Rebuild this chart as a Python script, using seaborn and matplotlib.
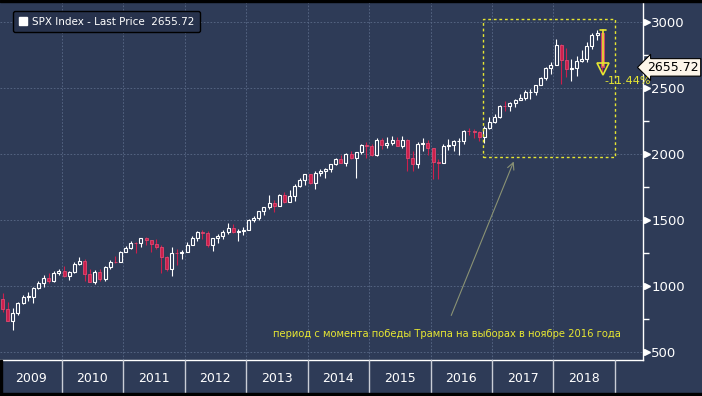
import numpy as np
import pandas as pd
import matplotlib
matplotlib.use("Agg")
import matplotlib.pyplot as plt
import seaborn as sns
from matplotlib.patches import Patch, Rectangle

# SPX monthly OHLC, Jan 2009 - Oct 2018 (read approximately)
months = pd.date_range("2009-01-01", "2018-10-01", freq="MS")
opens = [
    903, 826, 735, 798, 873, 919, 919, 987, 1021, 1057, 1036, 1096,
    1115, 1074, 1104, 1169, 1187, 1089, 1031, 1102, 1049, 1141, 1183, 1181,
    1258, 1286, 1327, 1326, 1364, 1345, 1321, 1292, 1219, 1131, 1253, 1247,
    1258, 1312, 1366, 1408, 1398, 1310, 1362, 1379, 1407, 1441, 1412, 1416,
    1426, 1498, 1515, 1569, 1598, 1631, 1606, 1686, 1633, 1682, 1757, 1806,
    1848, 1783, 1859, 1872, 1884, 1924, 1960, 1931, 2003, 1972, 2018, 2068,
    2059, 1995, 2105, 2068, 2086, 2107, 2063, 2104, 1972, 1920, 2079, 2080,
    2044, 1940, 1932, 2060, 2065, 2097, 2099, 2174, 2171, 2168, 2126, 2199,
    2239, 2279, 2364, 2363, 2384, 2412, 2423, 2470, 2472, 2519, 2575, 2648,
    2674, 2824, 2714, 2641, 2648, 2705, 2718, 2816, 2902, 2914,
]
highs = [
    944, 876, 832, 877, 930, 957, 993, 1039, 1080, 1101, 1113, 1130,
    1150, 1112, 1180, 1220, 1205, 1131, 1120, 1129, 1148, 1196, 1227, 1263,
    1303, 1344, 1333, 1364, 1370, 1346, 1356, 1307, 1230, 1293, 1277, 1269,
    1333, 1378, 1420, 1422, 1415, 1363, 1392, 1427, 1475, 1470, 1434, 1448,
    1510, 1530, 1570, 1598, 1687, 1654, 1698, 1710, 1730, 1775, 1814, 1849,
    1851, 1867, 1884, 1897, 1924, 1968, 1992, 2005, 2019, 2018, 2075, 2093,
    2072, 2120, 2117, 2126, 2135, 2129, 2133, 2113, 2021, 2094, 2117, 2104,
    2044, 1963, 2073, 2111, 2103, 2121, 2178, 2194, 2188, 2170, 2214, 2278,
    2301, 2372, 2401, 2392, 2419, 2454, 2484, 2491, 2520, 2582, 2657, 2695,
    2873, 2836, 2801, 2718, 2742, 2791, 2848, 2917, 2941, 2940,
]
lows = [
    805, 735, 667, 783, 866, 888, 869, 979, 993, 1020, 1029, 1086,
    1071, 1045, 1101, 1157, 1040, 1028, 1011, 1040, 1040, 1132, 1174, 1181,
    1257, 1282, 1249, 1295, 1311, 1258, 1282, 1101, 1114, 1075, 1158, 1202,
    1258, 1312, 1340, 1358, 1292, 1267, 1325, 1354, 1397, 1403, 1343, 1385,
    1426, 1485, 1501, 1536, 1581, 1560, 1604, 1627, 1633, 1646, 1747, 1768,
    1770, 1738, 1834, 1814, 1862, 1915, 1930, 1905, 1964, 1821, 2001, 1973,
    1988, 1981, 2040, 2048, 2068, 2057, 2045, 1867, 1872, 1893, 2019, 1993,
    1812, 1810, 1932, 2033, 2025, 1992, 2075, 2147, 2119, 2097, 2084, 2188,
    2234, 2271, 2322, 2329, 2353, 2406, 2407, 2417, 2446, 2519, 2557, 2605,
    2674, 2533, 2585, 2553, 2594, 2698, 2699, 2796, 2864, 2604,
]
closes = [
    826, 735, 798, 873, 919, 919, 987, 1021, 1057, 1036, 1096, 1115,
    1074, 1104, 1169, 1187, 1089, 1031, 1102, 1049, 1141, 1183, 1181, 1258,
    1286, 1327, 1326, 1364, 1345, 1321, 1292, 1219, 1131, 1253, 1247, 1258,
    1312, 1366, 1408, 1398, 1310, 1362, 1379, 1407, 1441, 1412, 1416, 1426,
    1498, 1515, 1569, 1598, 1631, 1606, 1686, 1633, 1682, 1757, 1806, 1848,
    1783, 1859, 1872, 1884, 1924, 1960, 1931, 2003, 1972, 2018, 2068, 2059,
    1995, 2105, 2068, 2086, 2107, 2063, 2104, 1972, 1920, 2079, 2080, 2044,
    1940, 1932, 2060, 2065, 2097, 2099, 2174, 2171, 2168, 2126, 2199, 2239,
    2279, 2364, 2363, 2384, 2412, 2423, 2470, 2472, 2519, 2575, 2648, 2674,
    2824, 2714, 2641, 2648, 2705, 2718, 2816, 2902, 2914, 2655.72,
]
years = [str(y) for y in range(2009, 2019)]
y_ticks = [500, 1000, 1500, 2000, 2500, 3000]
last_price = 2655.72
peak_price = 2940.91
drawdown_label = "-11.44%"
legend_label = "SPX Index - Last Price  2655.72"
note = "период с момента победы Трампа на выборах в ноябре 2016 года"

bg = "#2e3b57"
yellow = "#e6e632"
red = "#cc1f4c"

sns.set_theme(style="dark", rc={"axes.facecolor": bg, "figure.facecolor": bg})
plt.rcParams["font.family"] = ["DejaVu Sans"]

df = pd.DataFrame({"date": months, "open": opens, "high": highs,
                   "low": lows, "close": closes})
df["x"] = df["date"].dt.year + (df["date"].dt.month - 0.5) / 12
df["up"] = df["close"] >= df["open"]

fig = plt.figure(figsize=(7.02, 3.96), dpi=100)
ax = fig.add_axes([0, 36 / 396, 643 / 702, 358 / 396])
ax.set_facecolor(bg)

# candles: hollow white = up, red = down
up = df[df["up"]]
dn = df[~df["up"]]
ax.vlines(up["x"], up["low"], up["high"], color="white", lw=0.8, zorder=3)
ax.vlines(dn["x"], dn["low"], dn["high"], color=red, lw=0.8, zorder=3)
ax.bar(up["x"], (up["close"] - up["open"]).clip(lower=2), bottom=up["open"],
       width=0.05, color=bg, edgecolor="white", lw=0.8, zorder=4)
ax.bar(dn["x"], dn["open"] - dn["close"], bottom=dn["close"],
       width=0.05, color=red, edgecolor="#e04a72", lw=0.6, zorder=4)

ax.set_xlim(2009, 2009 + 643 / 61.5)
ax.set_ylim(439, 3151)
ax.set_xticks(range(2010, 2019))
ax.set_xticklabels([])
ax.tick_params(axis="x", length=0)
ax.yaxis.tick_right()
ax.set_yticks(y_ticks)
ax.set_yticks(np.arange(750, 3000, 500), minor=True)
ax.tick_params(axis="y", which="major", length=0, pad=6, labelsize=9.5,
               labelcolor="white")
ax.tick_params(axis="y", which="minor", length=4, width=1, color="white")
ax.grid(True, which="major", color="#5a6a88", ls=(0, (2, 2)), lw=0.6)
for s in ["left", "top"]:
    ax.spines[s].set_visible(False)
for s in ["right", "bottom"]:
    ax.spines[s].set_color("white")
    ax.spines[s].set_linewidth(1)
ytrans = ax.get_yaxis_transform()
ax.plot([1.006] * len(y_ticks), y_ticks, ls="none", marker=">", ms=4,
        color="white", transform=ytrans, clip_on=False)

# legend
ax.legend(handles=[Patch(facecolor="white", edgecolor="white")],
          labels=[legend_label], loc="upper left",
          bbox_to_anchor=(13 / 643, 1 - 9 / 358), borderaxespad=0,
          frameon=True, facecolor="#27324c", edgecolor="black", framealpha=1,
          fontsize=7.5, labelcolor="white", handlelength=0.8, handleheight=0.8,
          handletextpad=0.5, borderpad=0.55)

# last price label
ax.text(1.006, last_price, "2655.72", transform=ytrans, ha="left", va="center",
        fontsize=9, color="black", zorder=6,
        bbox=dict(boxstyle="larrow,pad=0.18", fc="#fdf6ea", ec="black", lw=0.8))

# selection box + drawdown marker
ax.add_patch(Rectangle((2016.85, 1977), 2019.0 - 2016.85, 3023 - 1977,
                       fill=False, ec=yellow, ls=(0, (2, 2)), lw=1, zorder=5))
xa = df["x"].iloc[-1] + 0.02
ax.plot([xa, xa], [peak_price, 2665], color=yellow, lw=1.2, zorder=6)
ax.plot([xa - 0.05, xa + 0.05], [peak_price, peak_price], color=yellow, lw=1.2,
        zorder=6)
ax.plot([xa], [2640], marker="v", ms=9, mfc="none", mec=yellow, mew=1.2,
        zorder=6)
ax.text(xa + 0.01, 2555, drawdown_label, color=yellow, fontsize=8,
        ha="left", va="center", zorder=6)

# note with arrow
ax.annotate("", xy=(2017.37, 1962), xytext=(2016.32, 757),
            arrowprops=dict(arrowstyle="->", color="#8a9274", lw=0.8))
ax.text(2016.26, 636, note, color=yellow, fontsize=7.2, ha="center",
        va="center")

# year panel
ax2 = fig.add_axes([0, 3 / 396, 643 / 702, 33 / 396])
ax2.set_facecolor(bg)
ax2.set_xlim(ax.get_xlim())
ax2.set_ylim(0, 1)
for y in range(2010, 2020):
    ax2.axvline(y, color="#c9cdd6", lw=1)
for i, label in enumerate(years):
    ax2.text(2009.5 + i, 0.45, label, color="white", fontsize=9,
             ha="center", va="center")
ax2.set_axis_off()

# black borders
fig.patches.append(Rectangle((0, 1 - 2 / 396), 1, 2 / 396, transform=fig.transFigure,
                             color="black", zorder=10))
fig.patches.append(Rectangle((0, 0), 1, 3 / 396, transform=fig.transFigure,
                             color="black", zorder=10))
fig.patches.append(Rectangle((0, 0), 1.5 / 702, 36 / 396, transform=fig.transFigure,
                             color="black", zorder=10))

fig.savefig("out.png", dpi=100)
